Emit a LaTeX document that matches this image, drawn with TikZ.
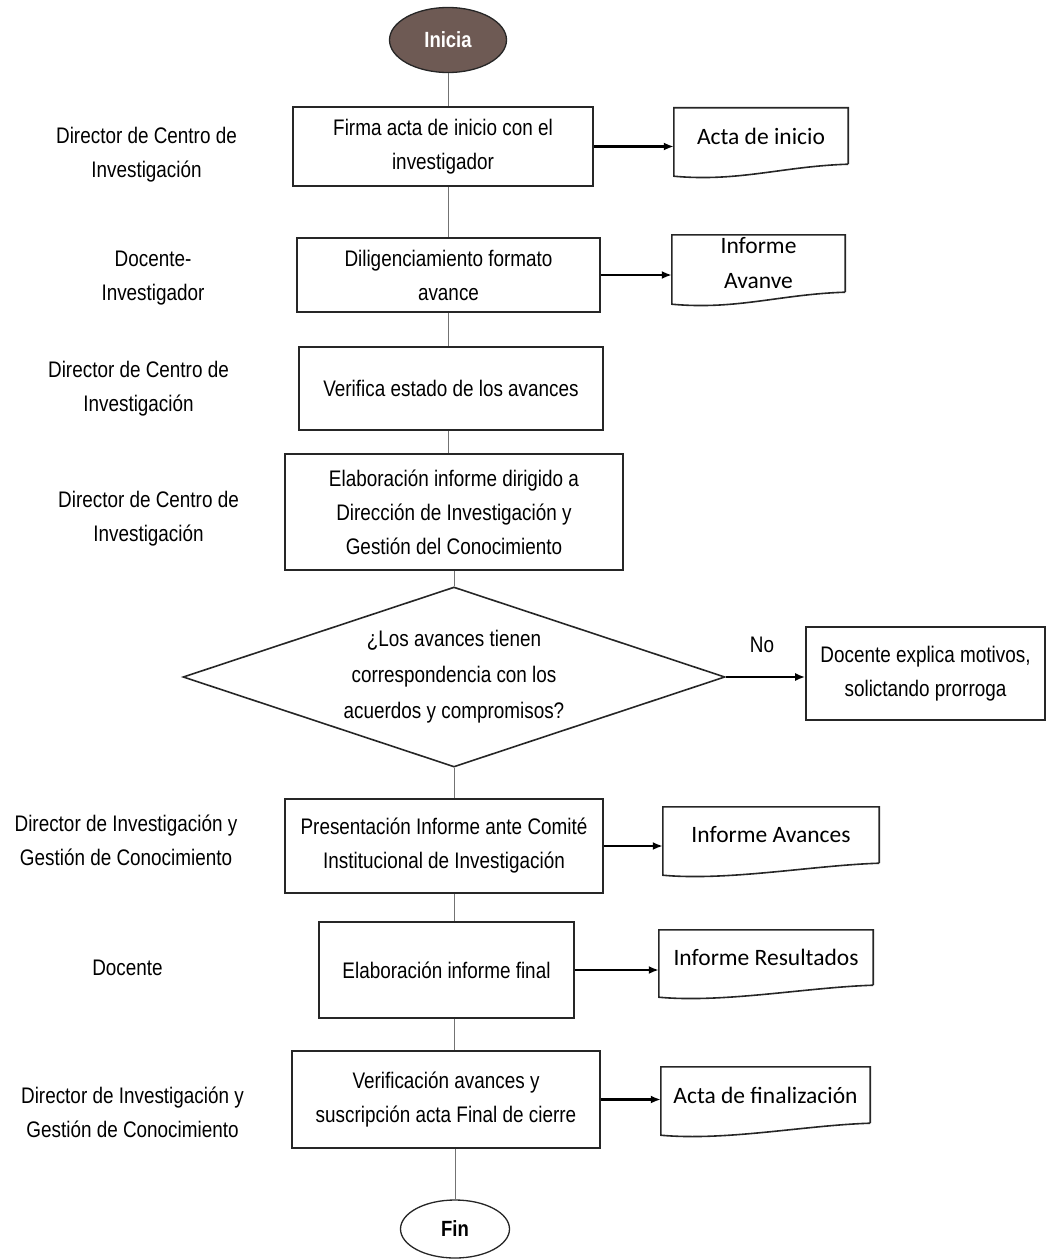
\documentclass[tikz,border=0pt]{standalone}
\usepackage{fontspec}
\setmainfont{Liberation Sans}[FakeStretch=0.84]
\newfontfamily\docfont{Carlito}
\usetikzlibrary{shapes.geometric,arrows.meta}
\definecolor{startfill}{RGB}{110,90,84}
\newcommand\docoutline[1]{%
  \draw[docline] (#1.south east) -- (#1.north east) -- (#1.north west)
    -- ([yshift=-12pt]#1.south west)
    .. controls +(65,6) and +(-65,2) .. (#1.south east);}
\begin{document}
\begin{tikzpicture}[x=1pt,y=-1pt,
  font=\fontsize{22.5}{34}\selectfont,
  proc/.style={draw=black!85, line width=1.6pt, align=center, inner sep=0pt},
  term/.style={ellipse, draw=black!85, line width=1.3pt, inner sep=0pt,
               font=\bfseries\fontsize{22}{26}\selectfont},
  docbox/.style={inner sep=0pt, align=center, font=\docfont\fontsize{23.5}{35}\selectfont},
  docline/.style={draw=black!85, line width=1.6pt},
  lab/.style={align=center},
  vline/.style={draw=black!55, line width=0.8pt},
  harrow/.style={draw=black, line width=2.2pt, -{Latex[length=10pt,width=8pt]}}]
\useasboundingbox (0,0) rectangle (1047,1260);

% left labels
\node[lab] (l1) at (146.5,155) {Director de Centro de\\Investigación};
\node[lab] (l2) at (153,278) {Docente-\\Investigador};
\node[lab] (l3) at (138.5,389) {Director de Centro de\\Investigación};
\node[lab] (l4) at (148.5,519) {Director de Centro de\\Investigación};
\node[lab] (l5) at (126,840.5) {Director de Investigación y\\Gestión de Conocimiento};
\node[lab] (l6) at (127.5,968) {Docente};
\node[lab] (l7) at (132.5,1112.5) {Director de Investigación y\\Gestión de Conocimiento};

% main flow
\node[term, fill=startfill, text=white, minimum width=117, minimum height=65] (start) at (448,40) {Inicia};
\node[proc, minimum width=300, minimum height=79] (b1) at (443,146.5) {Firma acta de inicio con el\\investigador};
\node[proc, minimum width=303, minimum height=74] (b2) at (448.5,275) {Diligenciamiento formato\\avance};
\node[proc, minimum width=304, minimum height=83] (b3) at (451,388.5) {Verifica estado de los avances};
\node[proc, minimum width=338, minimum height=116] (b4) at (454,512) {Elaboración informe dirigido a\\Dirección de Investigación y\\Gestión del Conocimiento};
\node[diamond, draw=black!85, line width=1.6pt, inner sep=0pt, minimum width=542, minimum height=180] (dec) at (454,677) {};
\node[align=center, font=\fontsize{22.5}{36}\selectfont] (dectext) at (454,677) {¿Los avances tienen\\correspondencia con los\\acuerdos y compromisos?};
\node[proc, minimum width=318, minimum height=94] (b5) at (444,846) {Presentación Informe ante Comité\\Institucional de Investigación};
\node[proc, minimum width=255, minimum height=96] (b6) at (446.5,970) {Elaboración informe final};
\node[proc, minimum width=308, minimum height=97] (b7) at (446,1099.5) {Verificación avances y\\suscripción acta Final de cierre};
\node[term, fill=white, minimum width=109, minimum height=58] (fin) at (455,1229) {Fin};

% side nodes
\node[proc, minimum width=239, minimum height=93] (no) at (925.5,673.5) {Docente explica motivos,\\solictando prorroga};
\node (nolab) at (762,645) {No};
\node[docbox, minimum width=174, minimum height=56] (d1) at (761,136) {Acta de inicio};
\node[docbox, minimum width=173, minimum height=57] (d2) at (758.5,263.5) {Informe\\Avanve};
\node[docbox, minimum width=216, minimum height=56] (d5) at (771,835) {Informe Avances};
\node[docbox, minimum width=214, minimum height=55] (d6) at (766,957.5) {Informe Resultados};
\node[docbox, minimum width=209, minimum height=56] (d7) at (765.5,1095) {Acta de finalización};
\foreach \n in {d1,d2,d5,d6,d7} {\docoutline{\n}}

% vertical connectors
\draw[vline] (start.south) -- (start.south |- b1.north);
\draw[vline] (b1.south -| start) -- (b2.north -| start);
\draw[vline] (b2.south -| start) -- (b3.north -| start);
\draw[vline] (b3.south -| start) -- (b4.north -| start);
\draw[vline] (b4.south -| dec) -- (dec.north);
\draw[vline] (dec.south) -- (dec.south |- b5.north);
\draw[vline] (b5.south -| dec) -- (b6.north -| dec);
\draw[vline] (b6.south -| dec) -- (b7.north -| dec);
\draw[vline] (b7.south -| fin) -- (fin.north);

% horizontal arrows
\draw[harrow] (b1.east) -- (b1.east -| d1.west);
\draw[harrow] (b2.east) -- (b2.east -| d2.west);
\draw[harrow] (dec.east) -- (dec.east -| no.west);
\draw[harrow] (b5.east) -- (b5.east -| d5.west);
\draw[harrow] (b6.east) -- (b6.east -| d6.west);
\draw[harrow] (b7.east) -- (b7.east -| d7.west);
\end{tikzpicture}
\end{document}
